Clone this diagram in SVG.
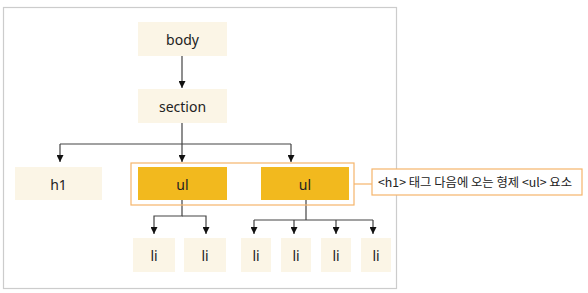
<svg xmlns="http://www.w3.org/2000/svg" width="588" height="293" viewBox="0 0 588 293">
<style>
.n{fill:#fbf5e6}
.u{fill:#f2b91e}
.t{font-family:"Noto Sans","Noto Sans CJK KR",sans-serif;font-size:14px;fill:#222;text-anchor:middle;dominant-baseline:central}
.c{fill:none;stroke:#444;stroke-width:1.2}
.o{fill:none;stroke:#f5b56b;stroke-width:1.2}
</style>
<defs>
<marker id="ah" viewBox="0 0 10 10" refX="10" refY="5" markerWidth="7" markerHeight="7" markerUnits="userSpaceOnUse" orient="auto">
<path d="M0,0L10,5L0,10z" fill="#111"/>
</marker>
</defs>
<rect x="3.5" y="7.5" width="393" height="281" fill="#fff" stroke="#ccc" stroke-width="1.2"/>
<g id="connectors">
<path class="c" d="M182,56V88" marker-end="url(#ah)"/>
<path class="c" d="M182,123V162"  marker-end="url(#ah)"/>
<path class="c" d="M60,144H291"/>
<path class="c" d="M60,144V162" marker-end="url(#ah)"/>
<path class="c" d="M291,144V162" marker-end="url(#ah)"/>
<path class="c" d="M182,200V216H154V234" marker-end="url(#ah)"/>
<path class="c" d="M182,216H206V234" marker-end="url(#ah)"/>
<path class="c" d="M306,200V220"/>
<path class="c" d="M254,220H373"/>
<path class="c" d="M254,220V234" marker-end="url(#ah)"/>
<path class="c" d="M294,220V234" marker-end="url(#ah)"/>
<path class="c" d="M336,220V234" marker-end="url(#ah)"/>
<path class="c" d="M373,220V234" marker-end="url(#ah)"/>
<path class="o" d="M354,184H372"/>
</g>
<g id="body"><rect class="n" x="138" y="22" width="89" height="34"/><text class="t" x="182.5" y="39">body</text></g>
<g id="section"><rect class="n" x="138" y="89" width="89" height="34"/><text class="t" x="182.5" y="106">section</text></g>
<g id="h1"><rect class="n" x="15" y="167" width="87" height="33"/><text class="t" x="58.5" y="184">h1</text></g>
<g id="siblings"><rect class="o" x="131" y="163" width="223" height="42"/></g>
<g id="ul1"><rect class="u" x="138" y="167" width="89" height="33"/><text class="t" x="182.5" y="184">ul</text></g>
<g id="ul2"><rect class="u" x="261" y="167" width="88" height="33"/><text class="t" x="305" y="184">ul</text></g>
<g id="li1"><rect class="n" x="133" y="238" width="42" height="34"/><text class="t" x="154" y="255">li</text></g>
<g id="li2"><rect class="n" x="184" y="238" width="42" height="34"/><text class="t" x="205" y="255">li</text></g>
<g id="li3"><rect class="n" x="241" y="238" width="30" height="34"/><text class="t" x="256" y="255">li</text></g>
<g id="li4"><rect class="n" x="281" y="238" width="30" height="34"/><text class="t" x="296" y="255">li</text></g>
<g id="li5"><rect class="n" x="321" y="238" width="30" height="34"/><text class="t" x="336" y="255">li</text></g>
<g id="li6"><rect class="n" x="361" y="238" width="30" height="34"/><text class="t" x="376" y="255">li</text></g>
<g id="callout"><rect x="372" y="169" width="210" height="26" fill="#fff" stroke="#f5b56b" stroke-width="1.2"/><text x="378" y="182" textLength="194" lengthAdjust="spacingAndGlyphs" style="font-family:'Noto Sans CJK KR',sans-serif;font-size:12.4px;fill:#222;dominant-baseline:central">&lt;h1&gt; 태그 다음에 오는 형제 &lt;ul&gt; 요소</text></g>
</svg>
